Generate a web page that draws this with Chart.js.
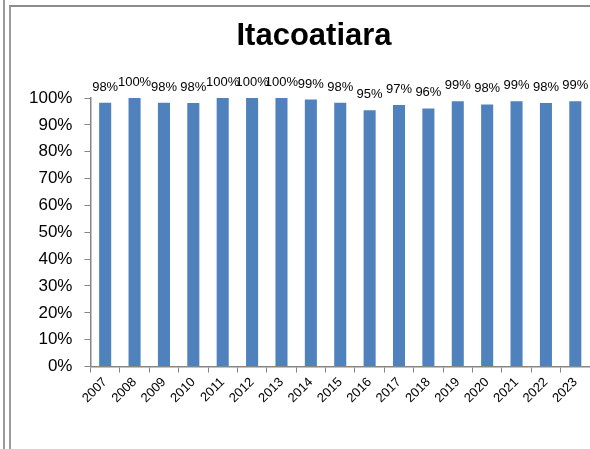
<!DOCTYPE html>
<html>
<head>
    <title>Itacoatiara</title>
    <script src="https://cdn.jsdelivr.net/npm/chart.js"></script>
    <style>
        body {
            margin: 0;
            background: white;
            font-family: 'Liberation Sans', Arial, sans-serif;
        }
        .frame {
            position: relative;
            width: 590px;
            height: 449px;
            overflow: hidden;
        }
        .line-a {
            position: absolute;
            left: 3px; top: 0;
            width: 2px; height: 449px;
            background: #9a9a9a;
        }
        .line-b {
            position: absolute;
            left: 9px; top: 5px;
            width: 581px; height: 443px;
            border-left: 2px solid #9a9a9a;
            border-top: 2px solid #8c8c8c;
        }
        canvas {
            position: absolute;
            left: 0; top: 0;
        }
    </style>
</head>
<body>
<div class="frame">
    <div class="line-a"></div>
    <div class="line-b"></div>
    <canvas id="chart" width="590" height="449"></canvas>
</div>

<script>
    // anos e cobertura (%)
    const years = ['2007','2008','2009','2010','2011','2012','2013','2014','2015',
                   '2016','2017','2018','2019','2020','2021','2022','2023'];
    const coverage = [98.2, 100, 98.2, 98.1, 100, 100, 100, 99.4, 98.2,
                      95.4, 97.4, 96.1, 98.8, 97.6, 98.8, 98.1, 98.8];
    const yTicks = [0, 10, 20, 30, 40, 50, 60, 70, 80, 90, 100];
    const chartTitle = 'Itacoatiara';

    // título centrado como no Excel (um pouco à direita do centro)
    const titleText = {
        id: 'titleText',
        afterDraw(chart) {
            const ctx = chart.ctx;
            ctx.save();
            ctx.font = 'bold 31px "Liberation Sans", Arial, sans-serif';
            ctx.fillStyle = '#000';
            ctx.textAlign = 'center';
            ctx.textBaseline = 'alphabetic';
            ctx.fillText(chartTitle, 314, 45);
            ctx.restore();
        }
    };

    // rótulos de valor acima das barras
    const valueLabels = {
        id: 'valueLabels',
        afterDatasetsDraw(chart) {
            const ctx = chart.ctx;
            const meta = chart.getDatasetMeta(0);
            ctx.save();
            ctx.font = '13px "Liberation Sans", Arial, sans-serif';
            ctx.fillStyle = '#000';
            ctx.textAlign = 'center';
            ctx.textBaseline = 'alphabetic';
            meta.data.forEach((bar, i) => {
                ctx.fillText(Math.round(coverage[i]) + '%', bar.x, bar.y - 12);
            });
            ctx.restore();
        }
    };

    new Chart(document.getElementById('chart'), {
        type: 'bar',
        data: {
            labels: years,
            datasets: [{
                data: coverage,
                backgroundColor: '#4F81BD',
                borderWidth: 0,
                categoryPercentage: 1,
                barPercentage: 0.41
            }]
        },
        options: {
            responsive: false,
            animation: false,
            layout: { padding: { left: 17, right: 0, top: 98, bottom: 41 } },
            plugins: {
                legend: { display: false },
                tooltip: { enabled: false },
                title: { display: false }
            },
            scales: {
                x: {
                    grid: { drawOnChartArea: false, tickLength: 6, color: '#868686', offset: true },
                    border: { color: '#868686', width: 1.5 },
                    ticks: {
                        color: '#000',
                        font: { family: '"Liberation Sans", Arial, sans-serif', size: 13 },
                        minRotation: 45,
                        maxRotation: 45,
                        padding: 2,
                        autoSkip: false
                    }
                },
                y: {
                    min: 0,
                    max: 100,
                    afterBuildTicks: axis => { axis.ticks = yTicks.map(v => ({ value: v })); },
                    grid: { drawOnChartArea: false, tickLength: 6, color: '#868686' },
                    border: { color: '#868686', width: 1.5 },
                    ticks: {
                        color: '#000',
                        font: { family: '"Liberation Sans", Arial, sans-serif', size: 17 },
                        padding: 12,
                        callback: v => v + '%'
                    }
                }
            }
        },
        plugins: [valueLabels, titleText]
    });
</script>
</body>
</html>
